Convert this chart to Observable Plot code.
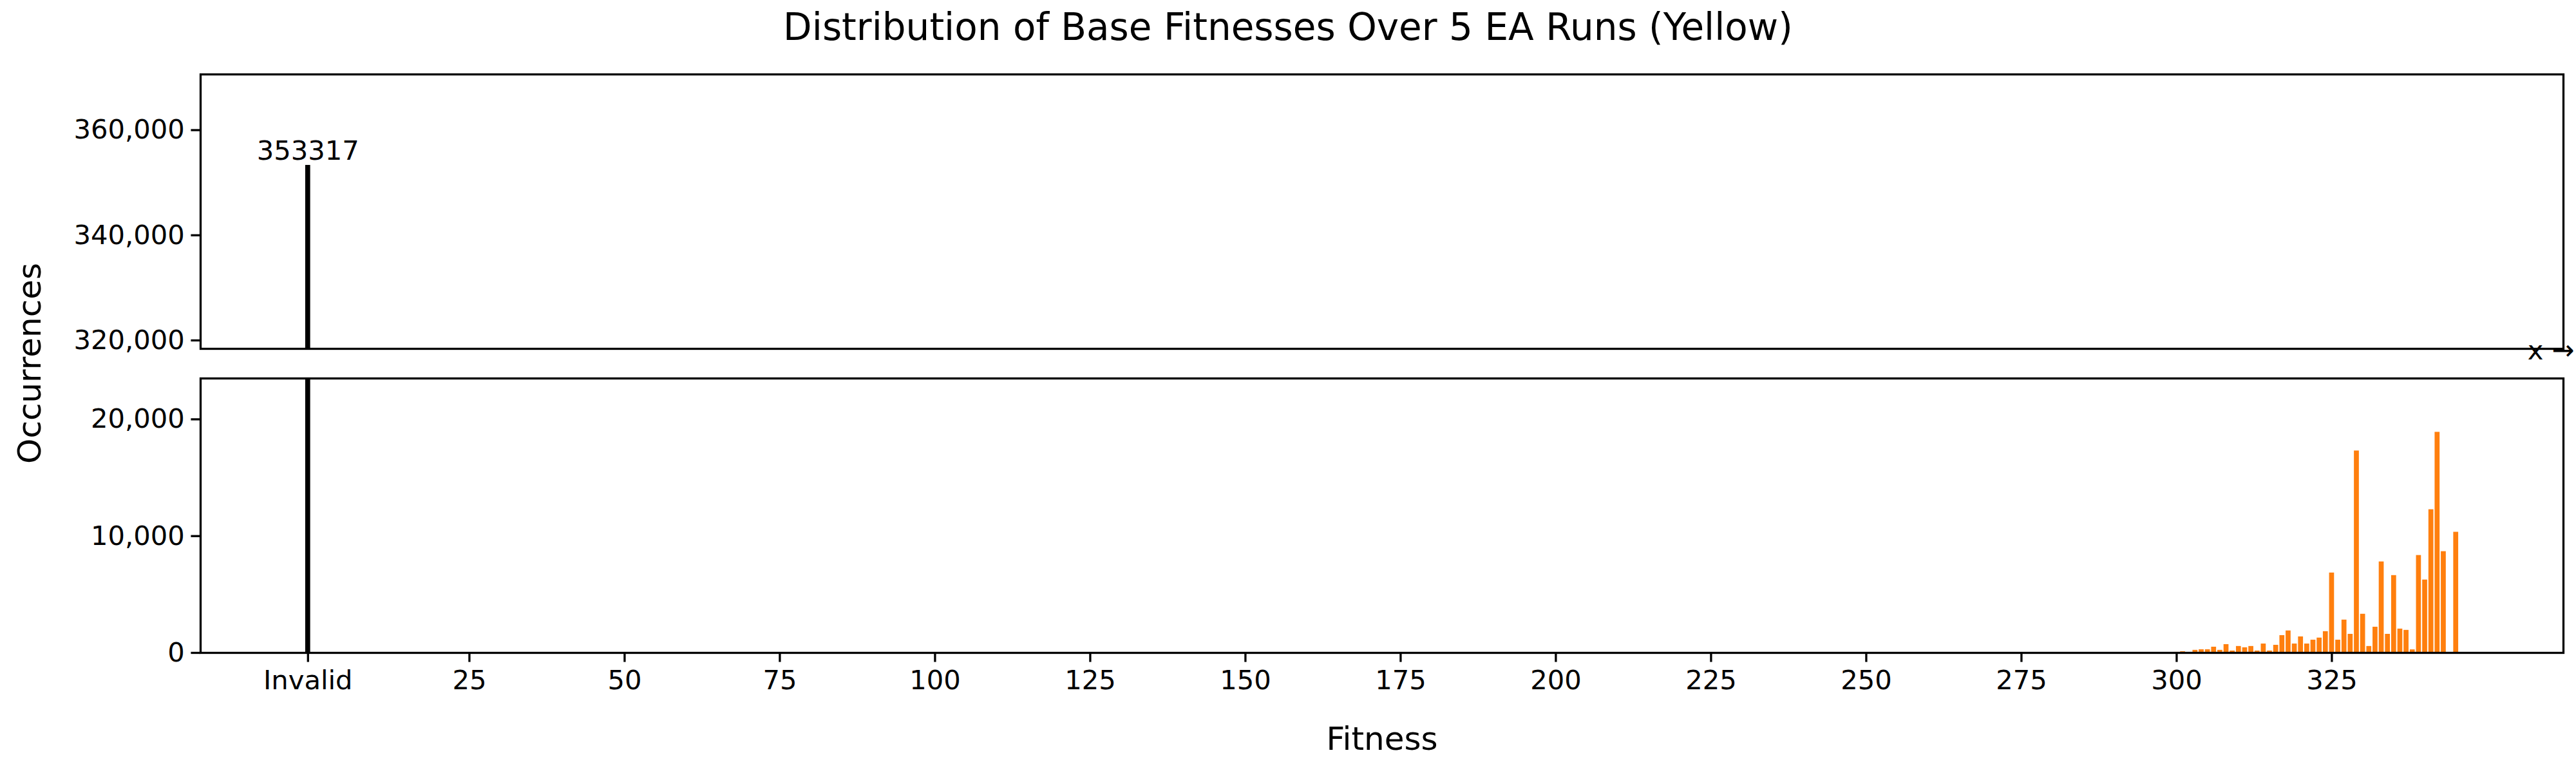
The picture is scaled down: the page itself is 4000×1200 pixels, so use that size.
<!DOCTYPE html>
<html>
<head>
<meta charset="utf-8">
<script src="https://cdn.jsdelivr.net/npm/d3@7"></script>
<script src="https://cdn.jsdelivr.net/npm/@observablehq/plot@0.6"></script>
<style>
  body { margin: 0; background: #fff; font-family: "DejaVu Sans", sans-serif; }
  #wrap { position: relative; width: 4000px; height: 1200px; }
  #wrap svg { position: absolute; left: 0; overflow: visible; }
  .title { position: absolute; top: 8px; left: 0; width: 4000px; text-align: center; font-size: 58px; }
  .ylab { position: absolute; left: 46px; top: 564px; font-size: 50px; transform: translate(-50%, -50%) rotate(-90deg); white-space: nowrap; }
</style>
</head>
<body>
<div id="wrap">
  <div class="title">Distribution of Base Fitnesses Over 5 EA Runs (Yellow)</div>
  <div class="ylab">Occurrences</div>
</div>
<script>
// fitness value -> number of occurrences
const fitness = [295,296,298,299,300,301,303,304,305,306,307,308,309,310,311,312,313,314,315,316,317,318,319,320,321,322,323,324,325,326,327,328,329,330,331,332,333,334,335,336,337,338,339,340,341,342,343,345];
const counts  = [50,50,50,50,60,110,230,280,280,500,230,720,170,560,450,560,170,770,170,660,1490,1890,770,1380,770,1100,1280,1830,6850,1100,2820,1600,17300,3320,560,2210,7800,1600,6630,2050,1940,270,8350,6250,12270,18900,8680,10340];
const invalidPos = -1;
const invalidCount = 353317;
const xTicks = [-1,25,50,75,100,125,150,175,200,225,250,275,300,325];

const bars = fitness.map((f, i) => ({x: f, y: counts[i]}));
const invalid = [{x: invalidPos, y: invalidCount}];

const fs = 41.7, lw = 3.3;
const xDomain = [-18.3, 362.3];

function panel(yDomain, yTicks, opts) {
  const marks = [
    Plot.rectY(bars, {x1: d => d.x - 0.4, x2: d => d.x + 0.4, y1: 0, y2: "y", fill: "#ff7f0e", clip: true}),
    Plot.rectY(invalid, {x1: d => d.x - 0.4, x2: d => d.x + 0.4, y1: 0, y2: "y", fill: "#000", clip: true}),
    Plot.axisY({ticks: yTicks, tickSize: 14.6, tickPadding: 10, strokeWidth: lw, label: null, fontSize: fs})
  ];
  if (opts.xAxis) {
    marks.push(Plot.axisX({ticks: xTicks, tickFormat: d => d === invalidPos ? "Invalid" : d, tickSize: 14.6, tickPadding: 12,
      strokeWidth: lw, fontSize: fs, label: "Fitness", labelAnchor: "center", labelArrow: "none", labelOffset: 150}));
  } else {
    marks.push(Plot.axisX({ticks: []}));
  }
  if (opts.label) marks.push(Plot.text(invalid, {x: "x", y: "y", text: d => String(d.y), dy: -22, fontSize: fs, fill: "#000"}));
  marks.push(Plot.frame({stroke: "#000", strokeWidth: lw}));
  return Plot.plot({
    width: 4000,
    height: opts.height,
    marginLeft: 311, marginRight: 20,
    marginTop: opts.mt, marginBottom: opts.mb,
    style: {fontFamily: "DejaVu Sans", fontSize: fs + "px", color: "#000", background: "transparent"},
    x: {domain: xDomain},
    y: {domain: yDomain},
    marks
  });
}

const upperPanel = panel([318400, 370600], [320000, 340000, 360000], {height: 560, mt: 115, mb: 19, xAxis: false, label: true});
const lowerPanel = panel([0, 23500], [0, 10000, 20000], {height: 640, mt: 27, mb: 187, xAxis: true, label: false});
upperPanel.style.top = "0px";
lowerPanel.style.top = "560px";
lowerPanel.querySelectorAll("[aria-label='x-axis label'] text").forEach(t => t.style.fontSize = "50px");
document.getElementById("wrap").append(upperPanel, lowerPanel);
</script>
</body>
</html>
